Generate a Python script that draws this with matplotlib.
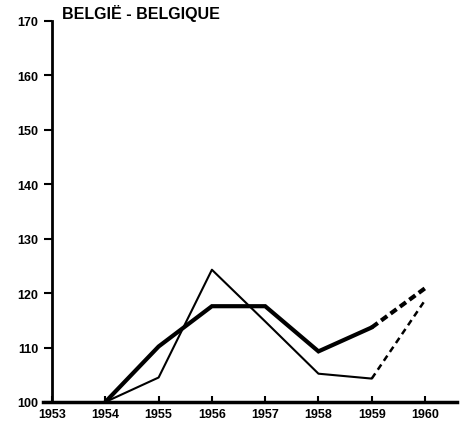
import matplotlib
matplotlib.use("Agg")
import matplotlib.pyplot as plt

years_solid = [1954, 1955, 1956, 1957, 1958, 1959]
thin_solid = [100, 104.5, 124.3, 114.8, 105.2, 104.3]
thick_solid = [100, 110.2, 117.6, 117.6, 109.3, 113.7]
years_proj = [1959, 1960]
thin_proj = [104.3, 118.7]
thick_proj = [113.7, 120.9]

xticks = [1953, 1954, 1955, 1956, 1957, 1958, 1959, 1960]
yticks = [100, 110, 120, 130, 140, 150, 160, 170]
title = "BELGIË - BELGIQUE"

font = "Liberation Sans"
fig = plt.figure(figsize=(4.7, 4.31), dpi=100)
ax = fig.add_axes([43/470, 1-403/431, 414/470, 381/431])

ax.plot(years_solid, thin_solid, color="black", lw=1.5, solid_capstyle="round")
ax.plot(years_solid, thick_solid, color="black", lw=3.0, solid_capstyle="round", solid_joinstyle="miter")
ax.plot(years_proj, thin_proj, color="black", lw=1.8, linestyle=(0, (2.5, 1.8)))
ax.plot(years_proj, thick_proj, color="black", lw=3.0, linestyle=(0, (1.8, 1.0)))

ax.set_xlim(1952.83, 1960.6)
ax.set_ylim(100, 170)
ax.spines["top"].set_visible(False)
ax.spines["right"].set_visible(False)
ax.spines["left"].set_position(("data", 1953))
ax.spines["left"].set_linewidth(2.0)
ax.spines["bottom"].set_linewidth(2.5)

ax.set_xticks(xticks)
ax.set_xticklabels([str(x) for x in xticks], fontfamily=font, fontweight="bold", fontsize=9)
ax.set_yticks(yticks)
ax.set_yticklabels([str(y) for y in yticks], fontfamily=font, fontweight="bold", fontsize=9)
ax.tick_params(axis="x", direction="in", length=4, width=1.5, pad=4)
ax.tick_params(axis="y", direction="out", length=6, width=1.5, pad=4)

fig.text(62/470, 1-14/431, title, fontfamily=font, fontweight="bold", fontsize=11.5, va="center", ha="left")

fig.savefig("out.png", dpi=100)
